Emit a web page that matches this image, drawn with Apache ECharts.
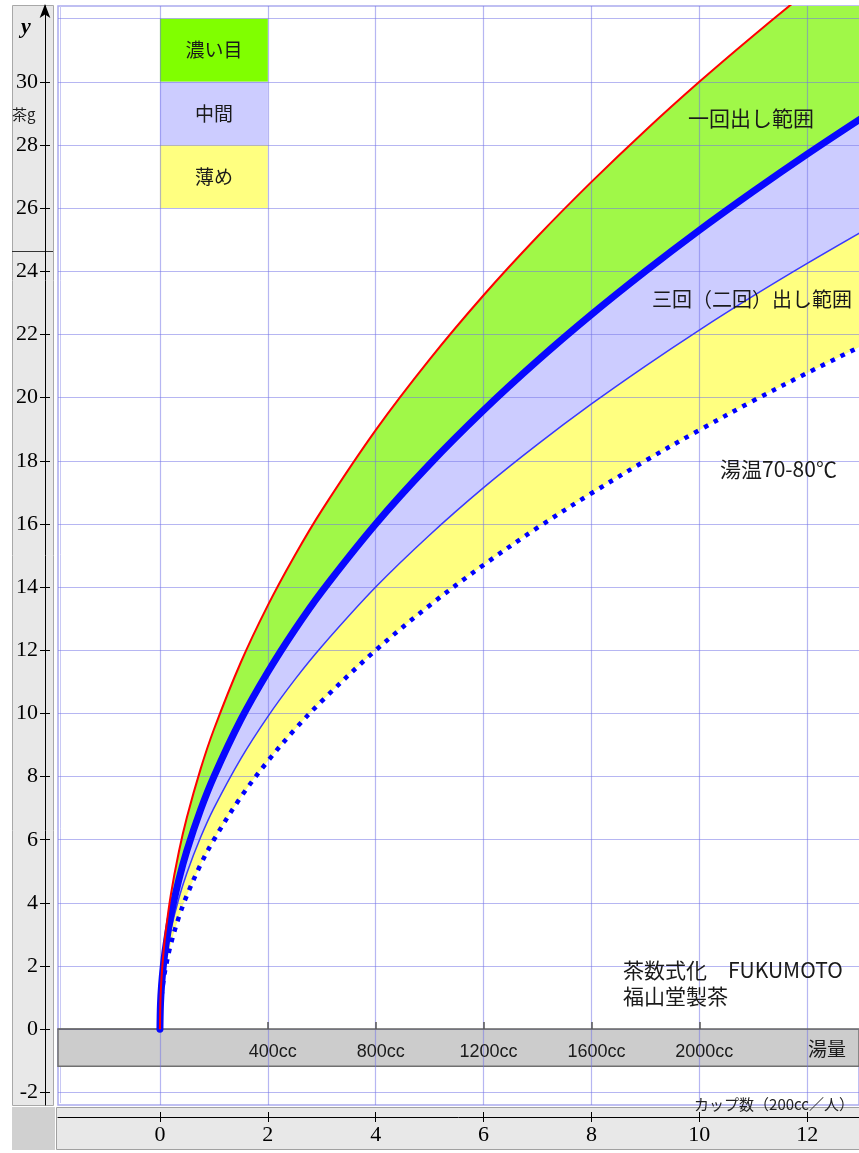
<!DOCTYPE html>
<html><head><meta charset="utf-8">
<script src="https://cdn.jsdelivr.net/npm/echarts/dist/echarts.min.js"></script>
<style>html,body{margin:0;padding:0;background:#fff}#c{width:859px;height:1153px}</style>
</head><body><div id="c"></div>
<script>
// ---- data ----
const cups = [0,0.01,0.03,0.06,0.1,0.2,0.35,0.5,0.75,1,1.5,2,2.5,3,4,5,6,7,8,9,10,11,12,13];
const redUpper    = [0,0.95,1.64,2.32,3.00,4.24,5.61,6.71,8.22,9.49,11.62,13.42,15.00,16.43,18.97,21.21,23.24,25.10,26.83,28.46,30.00,31.46,32.86,34.21];
const thickBlue   = [0,0.80,1.39,1.96,2.53,3.58,4.73,5.66,6.93,8.00,9.80,11.31,12.65,13.86,16.00,17.89,19.60,21.17,22.63,24.00,25.30,26.53,27.71,28.84];
const thinBlue    = [0,0.70,1.21,1.71,2.21,3.13,4.14,4.95,6.06,7.00,8.57,9.90,11.07,12.12,14.00,15.65,17.15,18.52,19.80,21.00,22.14,23.22,24.25,25.24];
const dottedLower = [0,0.60,1.04,1.47,1.90,2.68,3.55,4.24,5.20,6.00,7.35,8.49,9.49,10.39,12.00,13.42,14.70,15.88,16.97,18.00,18.97,19.90,20.78,21.63];
const xTicks = [0,2,4,6,8,10,12];
const yGridTicks = [-2,0,2,4,6,8,10,12,14,16,18,20,22,24,26,28,30,32];
const yLabelTicks = [-2,0,2,4,6,8,10,12,14,16,18,20,22,24,26,28,30];
const ccTicks = [2,4,6,8,10];
const ccLabels = ['400cc','800cc','1200cc','1600cc','2000cc'];
const legendNames = ['濃い目','中間','薄め'];
const legendRanges = [[30,32],[28,30],[26,28]];
const legendColors = ['#80ff00','#ccccff','#ffff80'];
const xMin = -1.89, xMax = 12.96, yMin = -2.4, yMax = 32.4;
const bandBottom = -1.17;

const pairs = arr => cups.map((x,i)=>[x, arr[i]]);

const serif = '"Liberation Serif","DejaVu Serif",serif';
const jp = '"Noto Sans CJK JP","Noto Sans",sans-serif';
const sans = '"Liberation Sans","Noto Sans CJK JP",sans-serif';
const gridColor = 'rgba(115,115,230,0.52)';

const chart = echarts.init(document.getElementById('c'));
const common = {type:'line', smooth:0.35, symbol:'none', xAxisIndex:0, yAxisIndex:0, silent:true};
const areaOnly = (name, arr, color) => Object.assign({}, common, {name, z:1, data:pairs(arr),
  lineStyle:{width:0, opacity:0}, areaStyle:{color, opacity:1}});

const option = {
  animation:false,
  backgroundColor:'#fff',
  grid:[
    {left:58, right:0, top:6, bottom:48, show:true, backgroundColor:'#fff', borderColor:'#aaaaee', borderWidth:1.5},
    {left:58, right:0, top:1029, height:37, show:false}
  ],
  xAxis:[
    {type:'value', gridIndex:0, min:xMin, max:xMax, z:2, axisLine:{show:false,onZero:false},
     axisTick:{show:false, customValues:xTicks}, axisLabel:{show:false, customValues:xTicks},
     splitLine:{show:true, lineStyle:{color:gridColor, width:1.2}}},
    {type:'value', gridIndex:0, min:xMin, max:xMax, z:2, position:'bottom', offset:12,
     axisLine:{show:true, onZero:false, lineStyle:{color:'#000', width:1}},
     axisTick:{show:true, inside:false, length:5, customValues:xTicks, lineStyle:{color:'#000'}},
     axisLabel:{show:true, customValues:xTicks, margin:7, fontFamily:serif, fontSize:22, color:'#000'},
     splitLine:{show:false}},
    {type:'value', gridIndex:0, min:xMin, max:xMax, z:2, position:'bottom', offset:12,
     axisLine:{show:false, onZero:false},
     axisTick:{show:true, inside:true, length:5, customValues:xTicks, lineStyle:{color:'#000'}},
     axisLabel:{show:false}, splitLine:{show:false}},
    {type:'value', gridIndex:1, min:xMin, max:xMax, z:3, position:'top',
     axisLine:{show:true, onZero:false, lineStyle:{color:'#666', width:1.5}},
     axisTick:{show:true, inside:false, length:7, customValues:ccTicks, lineStyle:{color:'#555', width:1.5}},
     axisLabel:{show:true, inside:true, customValues:ccTicks, margin:14, padding:[0,0,0,10], fontFamily:sans, fontSize:18, color:'#1a1a1a',
       formatter:v=>{const i=ccTicks.indexOf(v); return i>=0?ccLabels[i]:'';}},
     splitLine:{show:false}}
  ],
  yAxis:[
    {type:'value', gridIndex:0, min:yMin, max:yMax, z:2, axisLine:{show:false,onZero:false},
     axisTick:{show:false, customValues:yGridTicks}, axisLabel:{show:false, customValues:yGridTicks},
     splitLine:{show:true, lineStyle:{color:gridColor, width:1.2}}},
    {type:'value', gridIndex:0, min:yMin, max:yMax, z:2, position:'left', offset:13,
     axisLine:{show:true, onZero:false, symbol:['none','arrow'], symbolSize:[8,14], symbolOffset:[0,2], lineStyle:{color:'#000', width:1}},
     axisTick:{show:true, inside:false, length:5, customValues:yLabelTicks, lineStyle:{color:'#000'}},
     axisLabel:{show:true, customValues:yLabelTicks, margin:7, fontFamily:serif, fontSize:22, color:'#000'},
     splitLine:{show:false}},
    {type:'value', gridIndex:0, min:yMin, max:yMax, z:2, position:'left', offset:13,
     axisLine:{show:false, onZero:false},
     axisTick:{show:true, inside:true, length:5, customValues:yLabelTicks, lineStyle:{color:'#000'}},
     axisLabel:{show:false}, splitLine:{show:false}},
    {type:'value', gridIndex:1, min:0, max:1, show:false, axisLine:{onZero:false}}
  ],
  series:[
    areaOnly('濃い目', redUpper, '#a0f848'),
    areaOnly('中間', thickBlue, '#ccccff'),
    areaOnly('薄め', thinBlue, '#ffff80'),
    Object.assign(areaOnly('base', dottedLower, '#ffffff'), {
      markArea:{silent:true, data:[
        [{xAxis:xMin, yAxis:0, itemStyle:{color:'#cccccc', borderColor:'#707070', borderWidth:1.5}}, {xAxis:xMax, yAxis:bandBottom}],
        ...legendNames.map((n,i)=>[
          {name:n, xAxis:0, yAxis:legendRanges[i][0], itemStyle:{color:legendColors[i], borderWidth:0}},
          {xAxis:2, yAxis:legendRanges[i][1]}])
      ], label:{show:true, position:'inside', fontFamily:jp, fontSize:19, color:'#1a1a1a', formatter:p=>p.name||''}}}),
    Object.assign({}, common, {name:'dotted', z:3, data:pairs(dottedLower), lineStyle:{color:'#0000ff', width:4.5, type:[4.5,6.5]}}),
    Object.assign({}, common, {name:'thin', z:3, data:pairs(thinBlue), lineStyle:{color:'#3a3aff', width:1.5}}),
    Object.assign({}, common, {name:'thick', z:3, data:pairs(thickBlue), lineStyle:{color:'#0808ff', width:7, cap:'round'}}),
    Object.assign({}, common, {name:'red', z:3, data:pairs(redUpper), lineStyle:{color:'#ff0000', width:2}})
  ],
  graphic:[
    {type:'rect', z:0, shape:{x:12.5, y:5.5, width:41, height:1100}, style:{fill:'#e8e8e8', stroke:'#a8a8a8', lineWidth:1}},
    {type:'rect', z:0, shape:{x:12, y:1107, width:43, height:43}, style:{fill:'#d0d0d0'}},
    {type:'rect', z:0, shape:{x:56.5, y:1107.5, width:803, height:42}, style:{fill:'#e8e8e8', stroke:'#a0a0a0', lineWidth:1}},
    {type:'line', z:0, shape:{x1:12, y1:251.5, x2:53, y2:251.5}, style:{stroke:'#333', lineWidth:1}},
    {type:'line', z:0, shape:{x1:60.5, y1:6, x2:60.5, y2:1103}, style:{stroke:'#c8c8f4', lineWidth:1}},
    {type:'text', z:10, x:21, y:16, style:{text:'y', font:'italic bold 22px "Liberation Serif"', fill:'#000'}},
    {type:'text', z:10, x:12, y:107, style:{text:'茶g', font:'15px "Noto Sans CJK JP"', fill:'#222'}},
    {type:'text', z:10, x:688, y:118, style:{text:'一回出し範囲', font:'21px "Noto Sans CJK JP"', fill:'#1a1a1a', verticalAlign:'middle'}},
    {type:'text', z:10, x:652, y:299, style:{text:'三回（二回）出し範囲', font:'20px "Noto Sans CJK JP"', fill:'#1a1a1a', verticalAlign:'middle'}},
    {type:'text', z:10, x:720, y:469, style:{text:'湯温70-80℃', font:'21px "Noto Sans CJK JP"', fill:'#1a1a1a', verticalAlign:'middle'}},
    {type:'text', z:10, x:623, y:970, style:{text:'茶数式化　FUKUMOTO', font:'21px "Noto Sans CJK JP"', fill:'#1a1a1a', verticalAlign:'middle'}},
    {type:'text', z:10, x:623, y:996, style:{text:'福山堂製茶', font:'21px "Noto Sans CJK JP"', fill:'#1a1a1a', verticalAlign:'middle'}},
    {type:'text', z:10, x:808, y:1049, style:{text:'湯量', font:'19px "Noto Sans CJK JP"', fill:'#1a1a1a', verticalAlign:'middle'}},
    {type:'text', z:10, x:854, y:1104, style:{text:'カップ数（200cc／人）', font:'15px "Noto Sans CJK JP"', fill:'#222', verticalAlign:'middle', align:'right'}}
  ]
};
chart.setOption(option);
</script></body></html>
